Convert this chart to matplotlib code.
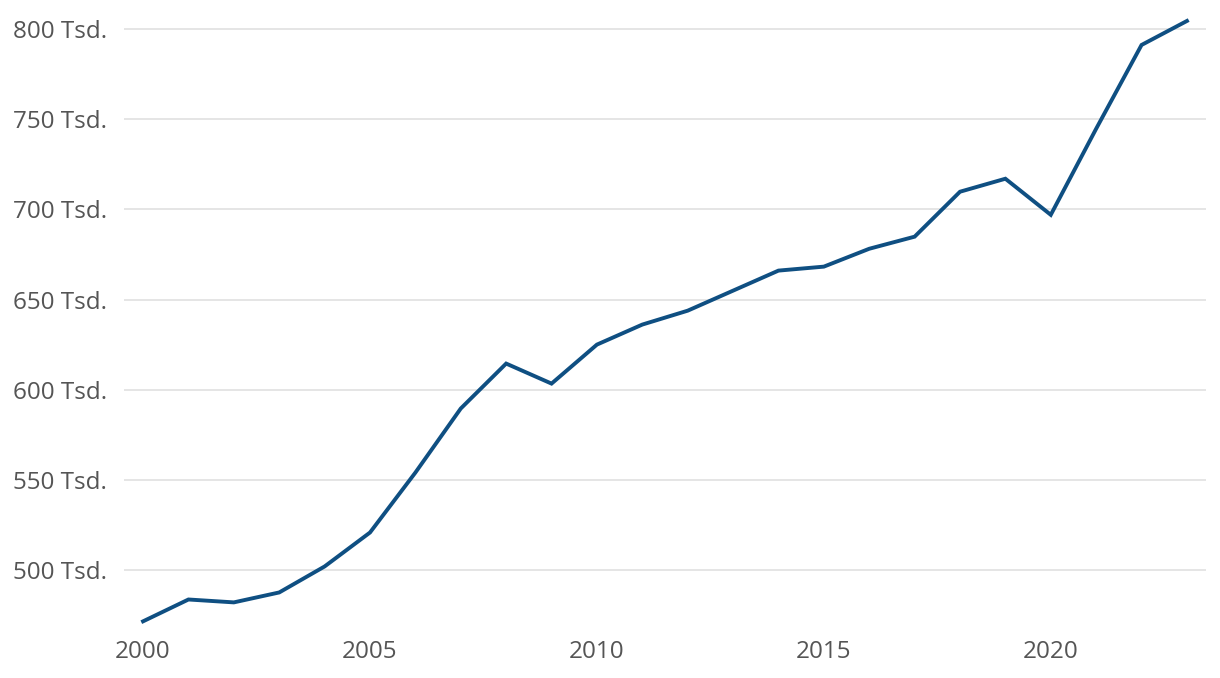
import matplotlib
matplotlib.use("Agg")
import matplotlib.pyplot as plt
from matplotlib.ticker import FuncFormatter

# values (thousands)
years = list(range(2000, 2024))
values = [471.8, 483.9, 482.3, 487.8, 502.2, 521.0, 554.2, 589.7, 614.6, 603.5,
          625.1, 636.2, 643.9, 655.0, 666.1, 668.3, 678.2, 684.9, 709.8, 717.0,
          697.0, 744.7, 791.1, 804.4]
y_ticks = [500, 550, 600, 650, 700, 750, 800]
x_ticks = [2000, 2005, 2010, 2015, 2020]

plt.rcParams['font.family'] = ['Open Sans', 'DejaVu Sans']

fig = plt.figure(figsize=(12.2, 6.78), dpi=100)
ax = fig.add_axes([124 / 1220, 48 / 678, (1206 - 124) / 1220, (630 - 15) / 678])

ax.plot(years, values, color='#0f4f82', linewidth=2.8, solid_joinstyle='miter')

ax.set_xlim(1999.58, 2023.42)
ax.set_ylim(467, 807.7)
ax.set_yticks(y_ticks)
ax.set_xticks(x_ticks)
ax.yaxis.set_major_formatter(FuncFormatter(lambda v, p: f"{int(v)} Tsd."))

ax.grid(axis='y', color='#e3e3e3', linewidth=1.3)
ax.set_axisbelow(True)
for s in ax.spines.values():
    s.set_visible(False)
ax.tick_params(length=0, labelsize=17.5, labelcolor='#555555')
ax.tick_params(axis='y', pad=12)
ax.tick_params(axis='x', pad=7)

fig.savefig('out.png', dpi=100)
